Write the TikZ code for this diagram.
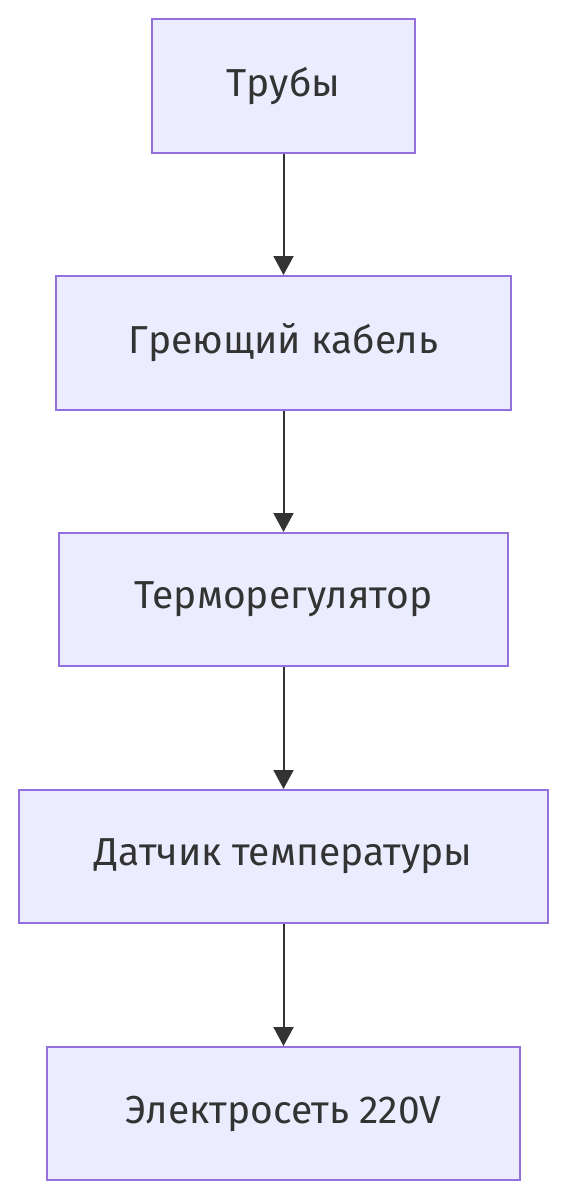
\documentclass[tikz,border=0pt]{standalone}
\usepackage{fontspec}
\setmainfont{Fira Sans}
\usetikzlibrary{arrows.meta}
\definecolor{boxfill}{HTML}{ECECFF}
\definecolor{boxline}{HTML}{9370DB}
\definecolor{ink}{HTML}{333333}
\begin{document}
\begin{tikzpicture}[x=1pt,y=-1pt,
  box/.style={draw=boxline,fill=boxfill,line width=2pt,text=ink,inner sep=0pt,
    font=\fontsize{39}{46}\selectfont},
  link/.style={draw=ink,line width=2pt,-{Triangle[length=19pt,width=20pt]}}]
\useasboundingbox (0,0) rectangle (568,1200);
\node[box,minimum width=263pt,minimum height=134pt] (a) at (283.5,86) {Трубы};
\node[box,minimum width=455pt,minimum height=134pt] (b) at (283.5,343) {Греющий кабель};
\node[box,minimum width=449pt,minimum height=133pt] (c) at (283.5,599.5) {Терморегулятор};
\node[box,minimum width=529pt,minimum height=133pt] (d) at (283.5,856.5) {Датчик температуры};
\node[box,minimum width=473pt,minimum height=133pt] (e) at (283.5,1113.5) {Электросеть 220V};
\draw[link] (a) -- (b);
\draw[link] (b) -- (c);
\draw[link] (c) -- (d);
\draw[link] (d) -- (e);
\end{tikzpicture}
\end{document}
